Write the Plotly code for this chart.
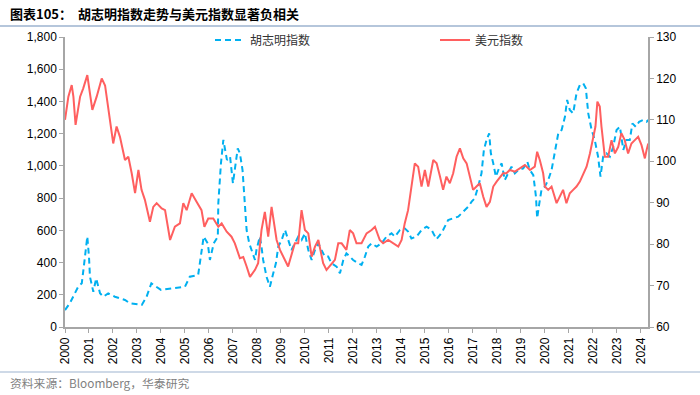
import plotly.graph_objects as go

# ---------------- data ----------------
hcm_x = [2000.00, 2000.20, 2000.55, 2000.70, 2000.80, 2000.93, 2001.00, 2001.04, 2001.18, 2001.30,
         2001.46, 2001.60, 2001.80, 2002.08, 2002.50, 2002.70, 2003.20, 2003.40, 2003.60, 2003.80,
         2004.00, 2004.45, 2005.00, 2005.20, 2005.55, 2005.70, 2005.78, 2005.95, 2006.04, 2006.20,
         2006.37, 2006.39, 2006.50, 2006.60, 2006.75, 2006.88, 2007.00, 2007.20, 2007.29, 2007.40,
         2007.50, 2007.57, 2007.68, 2007.78, 2007.92, 2007.98, 2008.12, 2008.19, 2008.26, 2008.40,
         2008.54, 2008.68, 2008.79, 2008.89, 2009.03, 2009.17, 2009.30, 2009.44, 2009.58, 2009.72,
         2009.86, 2010.00, 2010.14, 2010.28, 2010.42, 2010.56, 2010.69, 2010.83, 2010.97, 2011.11,
         2011.32, 2011.46, 2011.60, 2011.73, 2011.87, 2012.01, 2012.22, 2012.36, 2012.50, 2012.64,
         2012.78, 2012.99, 2013.19, 2013.40, 2013.61, 2013.75, 2013.96, 2014.16, 2014.30, 2014.44,
         2014.65, 2014.86, 2015.07, 2015.28, 2015.48, 2015.63, 2015.76, 2015.97, 2016.18, 2016.39,
         2016.60, 2016.81, 2016.95, 2017.08, 2017.22, 2017.36, 2017.46, 2017.57, 2017.68, 2017.75,
         2017.85, 2017.96, 2018.06, 2018.20, 2018.33, 2018.47, 2018.61, 2018.75, 2018.89, 2019.10,
         2019.27, 2019.38, 2019.52, 2019.63, 2019.68, 2019.77, 2019.86, 2020.00, 2020.14, 2020.28,
         2020.42, 2020.56, 2020.70, 2020.84, 2020.93, 2021.04, 2021.18, 2021.32, 2021.46, 2021.60,
         2021.71, 2021.81, 2021.95, 2022.08, 2022.22, 2022.32, 2022.43, 2022.57, 2022.71, 2022.85,
         2022.99, 2023.13, 2023.27, 2023.40, 2023.54, 2023.65, 2023.79, 2023.93, 2024.10, 2024.24,
         2024.31]
hcm_y = [105, 147, 250, 271, 395, 561, 436, 312, 219, 302,
         209, 188, 209, 188, 168, 147, 137, 188, 271, 250,
         230, 240, 250, 312, 323, 478, 561, 519, 416, 519,
         561, 768, 1016, 1161, 1037, 1057, 892, 1109, 1078, 974,
         768, 602, 519, 478, 416, 478, 561, 499, 416, 312,
         250, 333, 395, 499, 540, 602, 540, 478, 519, 561,
         540, 581, 478, 416, 478, 519, 478, 437, 437, 395,
         375, 333, 416, 457, 437, 416, 395, 385, 437, 499,
         519, 499, 519, 561, 581, 561, 602, 612, 592, 550,
         561, 602, 623, 602, 545, 571, 602, 664, 675, 685,
         716, 747, 778, 799, 871, 954, 1099, 1161, 1202, 1078,
         1016, 933, 974, 1016, 912, 954, 995, 954, 974, 985,
         1026, 974, 943, 809, 675, 768, 850, 871, 912, 974,
         1099, 1202, 1223, 1306, 1409, 1347, 1326, 1450, 1502, 1512,
         1481, 1326, 1223, 1161, 1057, 933, 1057, 1078, 1057, 1119,
         1223, 1243, 1099, 1161, 1161, 1264, 1243, 1274, 1285, 1274,
         1285]

usd_x = [2000.00, 2000.14, 2000.28, 2000.35, 2000.44, 2000.63, 2000.76, 2000.93, 2001.04, 2001.14,
         2001.32, 2001.53, 2001.67, 2001.81, 2001.92, 2002.01, 2002.15, 2002.29, 2002.50, 2002.64,
         2002.78, 2002.92, 2003.06, 2003.19, 2003.33, 2003.54, 2003.68, 2003.82, 2004.03, 2004.17,
         2004.38, 2004.58, 2004.79, 2004.93, 2005.07, 2005.28, 2005.49, 2005.69, 2005.81, 2005.97,
         2006.18, 2006.39, 2006.53, 2006.74, 2006.94, 2007.08, 2007.29, 2007.43, 2007.57, 2007.71,
         2007.92, 2008.05, 2008.19, 2008.33, 2008.47, 2008.61, 2008.82, 2008.96, 2009.30, 2009.58,
         2009.72, 2009.86, 2010.00, 2010.14, 2010.28, 2010.42, 2010.56, 2010.76, 2010.90, 2011.11,
         2011.25, 2011.39, 2011.53, 2011.73, 2011.87, 2012.01, 2012.15, 2012.36, 2012.57, 2012.78,
         2012.92, 2013.12, 2013.26, 2013.47, 2013.68, 2013.89, 2014.03, 2014.16, 2014.30, 2014.44,
         2014.58, 2014.72, 2014.86, 2015.00, 2015.14, 2015.35, 2015.49, 2015.63, 2015.76, 2015.90,
         2016.04, 2016.18, 2016.32, 2016.46, 2016.60, 2016.74, 2016.88, 2017.01, 2017.15, 2017.29,
         2017.43, 2017.57, 2017.71, 2017.85, 2017.99, 2018.13, 2018.26, 2018.40, 2018.54, 2018.75,
         2018.96, 2019.17, 2019.38, 2019.58, 2019.68, 2019.79, 2019.93, 2020.00, 2020.14, 2020.28,
         2020.49, 2020.63, 2020.76, 2020.90, 2021.04, 2021.18, 2021.32, 2021.46, 2021.60, 2021.74,
         2021.88, 2022.01, 2022.11, 2022.19, 2022.29, 2022.36, 2022.43, 2022.50, 2022.64, 2022.78,
         2022.92, 2023.06, 2023.19, 2023.33, 2023.47, 2023.61, 2023.75, 2023.89, 2024.03, 2024.17,
         2024.24, 2024.31]
usd_y = [110.0, 115.6, 118.4, 115.6, 108.8, 115.6, 117.6, 120.8, 116.4, 112.4,
         115.6, 120.0, 118.3, 112.8, 108.4, 104.3, 108.4, 105.9, 100.3, 101.1,
         97.1, 92.3, 97.9, 93.1, 90.7, 85.4, 89.0, 89.9, 88.6, 88.2,
         81.0, 84.2, 85.0, 89.9, 88.2, 92.3, 90.2, 88.2, 84.2, 86.2,
         86.2, 84.2, 85.0, 83.0, 81.8, 80.2, 76.6, 76.9, 74.6, 72.1,
         73.8, 75.4, 83.4, 87.8, 81.8, 89.0, 81.0, 78.6, 74.6, 80.2,
         80.2, 88.2, 83.4, 82.6, 77.0, 79.4, 81.0, 75.4, 73.8, 75.4,
         76.2, 80.2, 80.2, 78.6, 83.4, 82.6, 80.2, 80.2, 82.6, 83.4,
         84.2, 81.0, 80.2, 81.0, 80.2, 79.4, 81.0, 85.0, 88.2, 93.9,
         99.5, 98.7, 93.9, 97.9, 93.9, 100.3, 99.5, 96.3, 93.1, 96.3,
         94.7, 97.1, 101.1, 103.1, 100.7, 99.5, 96.3, 93.1, 93.9, 94.7,
         91.5, 89.0, 90.2, 93.9, 95.1, 96.3, 97.1, 97.1, 97.9, 97.5,
         98.3, 99.1, 97.9, 98.7, 102.3, 100.3, 97.1, 93.9, 93.1, 93.9,
         89.9, 91.5, 93.1, 89.9, 92.3, 93.1, 93.9, 95.1, 97.1, 98.7,
         101.9, 105.9, 108.4, 114.4, 113.2, 108.4, 105.1, 101.1, 101.1, 105.1,
         101.9, 103.5, 106.8, 105.1, 101.9, 104.3, 105.1, 105.9, 103.9, 100.7,
         102.7, 104.3]

year_ticks = list(range(2000, 2025))
year_labels = [str(y) for y in year_ticks]
left_ticks = list(range(0, 1801, 200))
right_ticks = list(range(60, 131, 10))

title_text = "<b>图表105：  胡志明指数走势与美元指数显著负相关</b>"
source_text = "资料来源：Bloomberg，华泰研究"

# ---------------- figure ----------------
BLUE = "#00B0F0"
RED = "#FF5F5F"
AX = "#A6A6A6"
TICKFONT = dict(family="Liberation Sans, Arial, sans-serif", size=12, color="#000000")
LEGFONT = dict(family="Noto Sans CJK SC", size=12, color="#333333")

L, R, T, B = 65, 52, 37, 68
W, H = 700, 395
pw, ph = W - L - R, H - T - B

def px_x(px):
    return (px - L) / pw

def px_y(py):
    return (H - B - py) / ph

fig = go.Figure()
fig.add_trace(go.Scatter(x=hcm_x, y=hcm_y, name="胡志明指数", mode="lines",
                         line=dict(color=BLUE, width=2, dash="6px,4px"), yaxis="y",
                         legend="legend"))
fig.add_trace(go.Scatter(x=usd_x, y=usd_y, name="美元指数", mode="lines",
                         line=dict(color=RED, width=2), yaxis="y2", legend="legend2"))

leg_common = dict(orientation="h", xanchor="left", yanchor="middle",
                  font=LEGFONT, bgcolor="rgba(0,0,0,0)", itemclick=False,
                  itemwidth=30, borderwidth=0)

fig.update_layout(
    width=W, height=H,
    margin=dict(l=L, r=R, t=T, b=B, pad=0, autoexpand=False),
    paper_bgcolor="white", plot_bgcolor="white",
    showlegend=True,
    legend=dict(x=px_x(210), y=px_y(40), **leg_common),
    legend2=dict(x=px_x(435), y=px_y(40), **leg_common),
    xaxis=dict(range=[2000, 2024.3], tickmode="array", tickvals=year_ticks, ticktext=year_labels,
               tickangle=-90, ticks="outside", ticklen=4, tickcolor=AX, showline=True,
               linecolor=AX, linewidth=1.5, showgrid=False, zeroline=False, tickfont=TICKFONT,
               automargin=False),
    yaxis=dict(range=[0, 1800], tickmode="array", tickvals=left_ticks, tickformat=",",
               ticks="outside", ticklen=4, tickcolor=AX, showline=True, linecolor=AX,
               linewidth=1.5, showgrid=False, zeroline=False, tickfont=TICKFONT,
               automargin=False),
    yaxis2=dict(range=[60, 130], tickmode="array", tickvals=right_ticks, overlaying="y",
                side="right", ticks="outside", ticklen=4, tickcolor=AX, showline=True,
                linecolor=AX, linewidth=1.5, showgrid=False, zeroline=False, tickfont=TICKFONT,
                automargin=False),
)

fig.add_annotation(text=title_text, xref="paper", yref="paper", x=px_x(8), y=px_y(13),
                   xanchor="left", yanchor="middle", showarrow=False,
                   font=dict(family="Noto Sans CJK SC", size=13, color="#000000"))
fig.add_annotation(text=source_text, xref="paper", yref="paper", x=px_x(8), y=px_y(382),
                   xanchor="left", yanchor="middle", showarrow=False,
                   font=dict(family="Noto Sans CJK SC", size=11.8, color="#7F7F7F"))
fig.add_shape(type="line", xref="paper", yref="paper", x0=px_x(0), x1=px_x(700),
              y0=px_y(26), y1=px_y(26), line=dict(color="#9DB3CF", width=1.5))
fig.add_shape(type="line", xref="paper", yref="paper", x0=px_x(0), x1=px_x(700),
              y0=px_y(372), y1=px_y(372), line=dict(color="#9DB3CF", width=1))

fig.write_html("out.html", config={"displayModeBar": False},
               post_script="document.body.style.margin='0';document.body.style.overflow='hidden';")
